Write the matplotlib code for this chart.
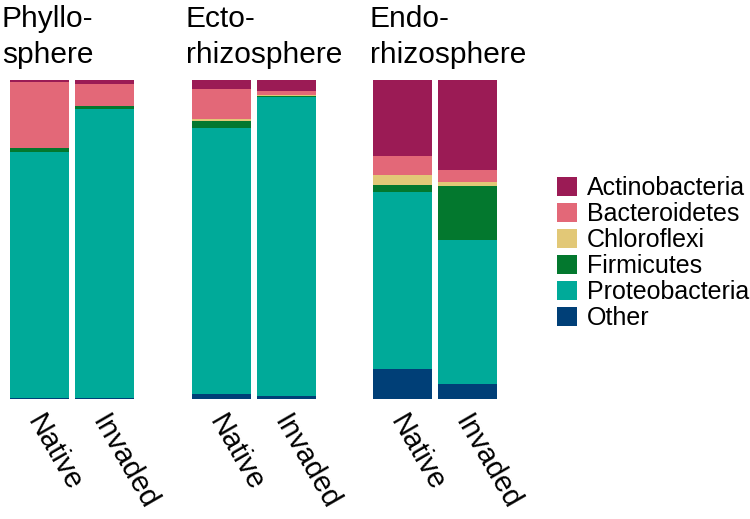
import matplotlib
matplotlib.use("Agg")
import matplotlib.pyplot as plt
import matplotlib.transforms as mtransforms
from matplotlib.patches import Patch

plt.rcParams['font.family'] = ['Liberation Sans', 'DejaVu Sans']

sites = ["Phyllo-\nsphere", "Ecto-\nrhizosphere", "Endo-\nrhizosphere"]
groups = ["Native", "Invaded"]

phyla = ["Actinobacteria", "Bacteroidetes", "Chloroflexi",
         "Firmicutes", "Proteobacteria", "Other"]
colors = ["#9b1b55", "#e36878", "#e2c877", "#03782e", "#00aa99", "#003f77"]

# relative abundance (%), bars in order: site x (Native, Invaded)
actino = [0.6, 1.3, 2.9, 3.3, 23.8, 28.2]
bacteroidetes = [20.8, 6.7, 9.4, 1.3, 6.1, 3.8]
chloroflexi = [0.0, 0.0, 0.4, 0.4, 3.1, 1.3]
firmicutes = [1.1, 1.2, 2.5, 0.2, 2.0, 16.9]
proteo = [77.2, 90.5, 83.1, 93.8, 55.7, 45.1]
other = [0.3, 0.3, 1.7, 1.0, 9.3, 4.7]

series = [actino, bacteroidetes, chloroflexi, firmicutes, proteo, other]

fig = plt.figure(figsize=(7.5, 5.19), dpi=100)

lefts = [10, 191.7, 372.7]
title_x = [2, 186, 370]
w = 0.908
shift = mtransforms.ScaledTranslation(0.06, 0, fig.dpi_scale_trans)

for i, site in enumerate(sites):
    ax = fig.add_axes([lefts[i] / 750, 1 - 399 / 519, 124 / 750, 319 / 519])
    x = [0, 1]
    bottom = [0.0, 0.0]
    # stack from bottom (Other) to top (Actinobacteria)
    for vals, col in zip(series[::-1], colors[::-1]):
        h = vals[2 * i:2 * i + 2]
        ax.bar(x, h, width=w, bottom=bottom, color=col, linewidth=0)
        bottom = [b + v for b, v in zip(bottom, h)]
    ax.set_xlim(-w / 2, 1 + w / 2)
    ax.set_ylim(0, 100)
    ax.set_yticks([])
    ax.set_xticks(x)
    ax.set_xticklabels(groups, rotation=-60, ha='left', va='top',
                       rotation_mode='anchor', fontsize=21)
    ax.tick_params(axis='x', length=0, pad=8)
    for lab in ax.get_xticklabels():
        lab.set_transform(lab.get_transform() + shift)
    for s in ax.spines.values():
        s.set_visible(False)
    fig.text(title_x[i] / 750, 1 - 5 / 519, site, ha='left', va='top',
             fontsize=21.5, linespacing=1.35)

handles = [Patch(facecolor=c, edgecolor='none') for c in colors]
fig.legend(handles, phyla, loc='upper left', bbox_to_anchor=(557 / 750, 1 - 176 / 519),
           frameon=False, fontsize=18, handlelength=0.8, handleheight=0.8,
           handletextpad=0.4, labelspacing=0.08, borderpad=0, borderaxespad=0)

fig.savefig("out.png", dpi=100)
